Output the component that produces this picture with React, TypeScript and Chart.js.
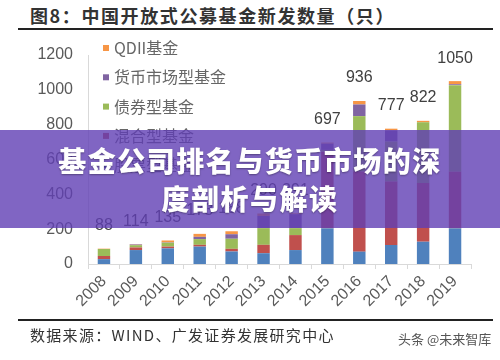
import React, { useEffect, useRef } from "react";
import { Chart, registerables } from "chart.js";

Chart.register(...registerables);

// ---- data ----
const years = ["2008", "2009", "2010", "2011", "2012", "2013", "2014", "2015", "2016", "2017", "2018", "2019"];
const stockFunds = [28, 80, 90, 100, 72, 62, 80, 205, 71, 109, 128, 205];
const hybridFunds = [18, 15, 10, 10, 15, 48, 86, 440, 460, 364, 337, 325];
const bondFunds = [40, 13, 22, 33, 58, 96, 40, 10, 318, 230, 349, 497];
const moneyFunds = [0, 4, 2, 13, 26, 70, 80, 36, 67, 64, 0, 5];
const qdiiFunds = [2, 2, 11, 17, 17, 14, 5, 6, 20, 10, 8, 18];
const seriesNames = ["股票型基金", "混合型基金", "债券型基金", "货币市场型基金", "QDII基金"];
const yTickValues = [0, 200, 400, 600, 800, 1000, 1200];

// ---- styles ----
const seriesColors = ["#4F81BD", "#C0504D", "#9BBB59", "#8064A2", "#F79646"];
const NUM_FONT = "'Liberation Sans', Arial, sans-serif";
const CJK_FONT = "'Noto Sans CJK SC', 'Noto Sans', sans-serif";

export default function App() {
  const canvasRef = useRef<HTMLCanvasElement | null>(null);

  useEffect(() => {
    document.body.style.margin = "0";
    const canvas = canvasRef.current;
    if (!canvas) return;

    const seriesValues = [stockFunds, hybridFunds, bondFunds, moneyFunds, qdiiFunds];

    const totalsPlugin = {
      id: "totals",
      afterDatasetsDraw(chart: any) {
        const { ctx } = chart;
        const xScale = chart.scales.x;
        const yScale = chart.scales.y;
        ctx.save();
        ctx.font = `16px ${NUM_FONT}`;
        ctx.fillStyle = "#404040";
        ctx.textAlign = "center";
        ctx.textBaseline = "middle";
        years.forEach((_, i) => {
          const total = seriesValues.reduce((s, arr) => s + arr[i], 0);
          const x = xScale.getPixelForValue(i);
          const y = yScale.getPixelForValue(total) - 23;
          ctx.fillText(String(total), x, y);
        });
        ctx.restore();
      },
    };

    const legendPlugin = {
      id: "customLegend",
      afterDraw(chart: any) {
        const { ctx, chartArea } = chart;
        const ds = chart.data.datasets.slice().reverse();
        ctx.save();
        ctx.font = `16px ${CJK_FONT}`;
        ctx.textBaseline = "middle";
        ctx.textAlign = "left";
        ds.forEach((d: any, i: number) => {
          const y = chartArea.top - 7 + i * 29.3;
          ctx.fillStyle = d.backgroundColor;
          ctx.fillRect(chartArea.left + 15, y - 3, 6, 6);
          ctx.fillStyle = "#666666";
          ctx.fillText(d.label, chartArea.left + 26, y);
        });
        ctx.restore();
      },
    };

    const chart = new Chart(canvas, {
      type: "bar",
      data: {
        labels: years,
        datasets: seriesValues.map((vals, k) => ({
          label: seriesNames[k],
          data: vals,
          backgroundColor: seriesColors[k],
          borderWidth: 0,
          categoryPercentage: 1,
          barPercentage: 0.39,
        })),
      },
      options: {
        animation: false,
        responsive: false,
        devicePixelRatio: 1,
        layout: { padding: { top: 55, right: 29, bottom: 46, left: 0 } },
        plugins: {
          legend: { display: false },
          tooltip: { enabled: false },
          title: { display: false },
        },
        scales: {
          x: {
            stacked: true,
            afterFit(scale: any) {
              scale.height = 50;
            },
            grid: {
              display: true,
              drawOnChartArea: false,
              offset: true,
              tickLength: 5,
              color: "#D9D9D9",
            },
            border: { display: true, color: "#D9D9D9", width: 1 },
            ticks: {
              minRotation: 45,
              maxRotation: 45,
              padding: 3,
              color: "#595959",
              font: { family: NUM_FONT, size: 16 },
            },
          },
          y: {
            stacked: true,
            min: 0,
            max: 1200,
            afterFit(scale: any) {
              scale.width = 88;
            },
            afterBuildTicks(scale: any) {
              scale.ticks = yTickValues.map((v) => ({ value: v }));
            },
            grid: { display: false, drawTicks: false },
            border: { display: true, color: "#D9D9D9", width: 1 },
            ticks: {
              padding: 15,
              color: "#595959",
              font: { family: NUM_FONT, size: 16 },
              callback: (value: any) => String(value),
            },
          },
        },
      },
      plugins: [totalsPlugin, legendPlugin],
    });

    return () => chart.destroy();
  }, []);

  return (
    <div style={{ position: "relative", width: 500, height: 360, background: "#ffffff", overflow: "hidden" }}>
      <div
        style={{
          position: "absolute",
          left: 30,
          top: 3,
          fontFamily: CJK_FONT,
          fontWeight: 700,
          fontSize: 18,
          letterSpacing: "1.6px",
          color: "#333333",
          whiteSpace: "nowrap",
          lineHeight: "24px",
        }}
      >
        图8：中国开放式公募基金新发数量（只）
      </div>
      <div style={{ position: "absolute", left: 18, top: 28, width: 475, height: 2, background: "#222222" }} />
      <canvas ref={canvasRef} width={500} height={360} style={{ position: "absolute", left: 0, top: 0 }} />
      <div style={{ position: "absolute", left: 18, top: 319, width: 475, height: 1.5, background: "#222222" }} />
      <div
        style={{
          position: "absolute",
          left: 30,
          top: 325,
          fontFamily: CJK_FONT,
          fontSize: 15,
          letterSpacing: "1.3px",
          color: "#333333",
          whiteSpace: "nowrap",
          lineHeight: "20px",
        }}
      >
        数据来源：WIND、广发证券发展研究中心
      </div>
      <div
        style={{
          position: "absolute",
          left: 398,
          top: 330,
          fontFamily: CJK_FONT,
          fontSize: 13,
          color: "#555555",
          whiteSpace: "nowrap",
          lineHeight: "18px",
        }}
      >
        头条 @未来智库
      </div>
      <div
        style={{
          position: "absolute",
          left: 0,
          top: 130,
          width: 500,
          height: 98,
          background: "rgba(96, 62, 180, 0.8)",
          display: "flex",
          flexDirection: "column",
          alignItems: "center",
          justifyContent: "center",
          color: "#ffffff",
          fontFamily: CJK_FONT,
          fontWeight: 900,
          fontSize: 28,
          letterSpacing: "1.5px",
          lineHeight: "38px",
          textShadow: "0 1px 2px rgba(0,0,0,0.35)",
          textAlign: "center",
        }}
      >
        <div>基金公司排名与货币市场的深</div>
        <div>度剖析与解读</div>
      </div>
    </div>
  );
}
